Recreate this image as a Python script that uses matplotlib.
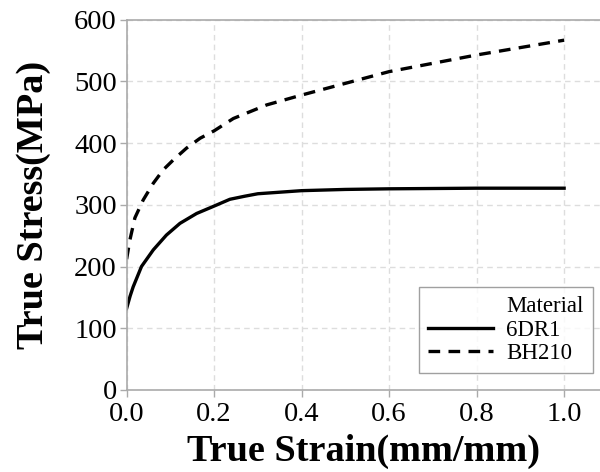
import matplotlib
matplotlib.use('Agg')
import matplotlib.pyplot as plt
from matplotlib.lines import Line2D

# 6DR1 true stress-strain
strain_6dr1 = [0.0, 0.008, 0.015, 0.034, 0.061, 0.091, 0.122, 0.16, 0.2, 0.236, 0.27, 0.3, 0.4, 0.5, 0.6, 0.8, 1.0]
stress_6dr1 = [132, 152, 167, 200, 227, 251, 270, 286, 298, 309, 314, 318, 323, 325, 326, 327, 327]

# BH210
strain_bh210 = [0.0, 0.0075, 0.019, 0.038, 0.061, 0.084, 0.107, 0.137, 0.168, 0.2, 0.244, 0.32, 0.4, 0.6, 0.8, 1.0]
stress_bh210 = [212, 243, 279, 308, 335, 357, 373, 392, 408, 420, 440, 462, 478, 516, 543, 567]

xticks = [0.0, 0.2, 0.4, 0.6, 0.8, 1.0]
yticks = [0, 100, 200, 300, 400, 500, 600]

plt.rcParams['font.family'] = ['Liberation Serif', 'DejaVu Serif']

fig = plt.figure(figsize=(6, 4.72), dpi=100)
ax = fig.add_axes([0.211, 0.174, 0.789, 0.784])

ax.plot(strain_6dr1, stress_6dr1, color='black', lw=2.4, label='6DR1')
ax.plot(strain_bh210, stress_bh210, color='black', lw=2.4, dashes=(3.5, 2.5), label='BH210')

ax.set_xlim(0, 1.082)
ax.set_ylim(0, 600)
ax.set_xticks(xticks)
ax.set_xticklabels([f'{t:.1f}' for t in xticks])
ax.set_yticks(yticks)
ax.tick_params(labelsize=20.5, colors='#aaaaaa', labelcolor='black', length=5, width=1)
ax.tick_params(axis='x', pad=4)
ax.tick_params(axis='y', pad=2)

ax.grid(True, color='#dddddd', linestyle=(0, (4, 3)), lw=1)
ax.set_axisbelow(True)
for s in ['left', 'bottom', 'top']:
    ax.spines[s].set_color('#aaaaaa')
    ax.spines[s].set_linewidth(1.2)
ax.spines['right'].set_visible(False)

ax.set_xlabel('True Strain(mm/mm)', fontsize=27.5, fontweight='bold', labelpad=5)
ax.set_ylabel('True Stress(MPa)', fontsize=27.5, fontweight='bold', labelpad=17)

# legend with "Material" title aligned with entry labels
handles = [Line2D([], [], color='none'),
           Line2D([], [], color='black', lw=2.4),
           Line2D([], [], color='black', lw=2.4, dashes=(3.5, 2.5))]
labels = ['Material', '6DR1', 'BH210']
leg = ax.legend(handles, labels, loc='lower right', bbox_to_anchor=(0.985, 0.045),
                fontsize=16.5, frameon=True, fancybox=False, edgecolor='#888888',
                handlelength=2.8, handletextpad=0.6, labelspacing=0.1,
                borderpad=0.4, borderaxespad=0)
leg.get_frame().set_linewidth(1)

fig.savefig('out.png', dpi=100)
